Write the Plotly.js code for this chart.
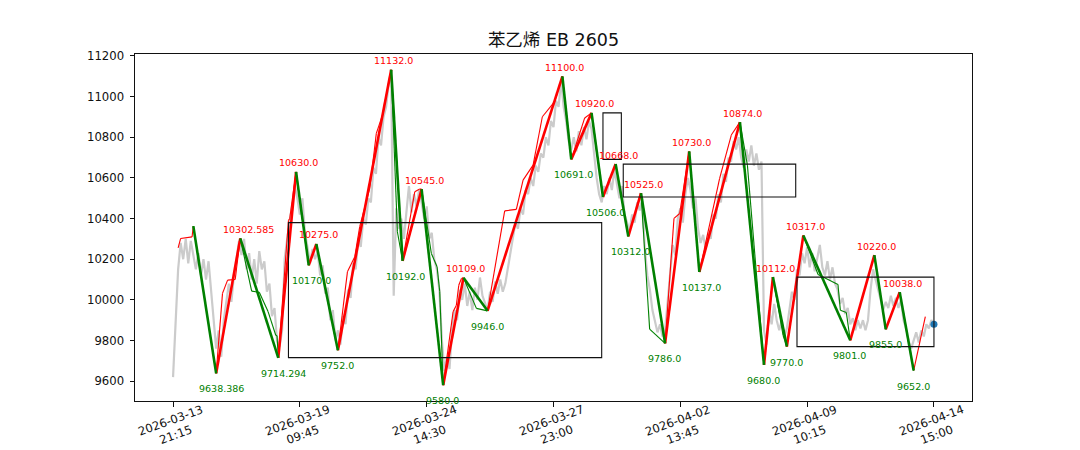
<!DOCTYPE html>
<html><head><meta charset="utf-8">
<script src="https://cdn.plot.ly/plotly-3.0.1.min.js"></script>
<style>html,body{margin:0;padding:0;background:#fff;} #chart{width:1080px;height:450px;}</style>
</head><body><div id="chart"></div>
<script>
// ---- data ----
const grayStep = 2; // bar index spacing of the close samples below
const grayClose = [
9620, 9900, 10150, 10280, 10200, 10300, 10180, 10290, 10220, 10150,
10230, 10120, 10200, 10100, 10190, 10040, 9880, 9760, 9850, 9720,
9900, 9980, 10080, 9990, 10120, 10200, 10290, 10220, 10300, 10150,
10230, 10100, 10200, 10080, 10240, 10150, 10190, 10040, 10080, 9920,
9960, 9800, 9770, 9850, 10200, 10300, 10380, 10460, 10560, 10500,
10420, 10500, 10330, 10260, 10180, 10250, 10200, 10240, 10120, 10170,
10030, 10060, 9900, 9950, 9800, 9850, 9780, 9920, 9880, 10050,
10010, 10180, 10150, 10300, 10260, 10400, 10370, 10500, 10480, 10650,
10620, 10800, 10760, 10900, 10950, 11060, 11110, 10020, 10450, 10350,
10400, 10300, 10450, 10560, 10430, 10520, 10460, 10540, 10480, 10400,
10460, 10300, 10330, 10200, 10150, 10050, 9800, 9650, 9720, 9660,
9850, 9950, 9900, 10050, 10000, 10080, 9970, 10040, 9950, 10060,
10000, 10110, 10020, 9980, 9950, 10040, 9990, 10090, 10030, 10100,
10040, 10080, 10150, 10230, 10300, 10380, 10350, 10450, 10420, 10540,
10520, 10600, 10560, 10660, 10630, 10720, 10700, 10800, 10760, 10880,
10850, 10980, 10950, 11080, 10950, 10880, 10780, 10740, 10800, 10730,
10830, 10760, 10850, 10790, 10880, 10840, 10720, 10600, 10520, 10480,
10560, 10520, 10600, 10540, 10640, 10560, 10500, 10560, 10420, 10380,
10340, 10420, 10380, 10480, 10440, 10500, 10250, 10120, 10050, 9950,
9900, 9840, 9880, 9820, 9850, 10000, 10150, 10270, 10220, 10400,
10450, 10380, 10520, 10600, 10540, 10450, 10500, 10350, 10280, 10320,
10250, 10330, 10300, 10420, 10400, 10520, 10480, 10620, 10580, 10700,
10680, 10780, 10740, 10800, 10700, 10650, 10740, 10680, 10760, 10660,
10720, 10640, 10680, 9850, 9780, 9950, 9880, 9980, 9900, 9850,
9900, 9820, 9860, 9960, 10040, 10000, 10150, 10120, 10230, 10180,
10260, 10160, 10230, 10140, 10200, 10270, 10160, 10120, 10190, 10100,
10160, 10080, 10050, 9980, 10010, 9930, 9960, 9880, 9910, 9850,
9900, 9860, 9900, 9850, 9900, 10050, 10150, 10100, 10050, 10000,
9950, 9990, 9960, 10020, 9970, 10010, 9960, 10000, 9900, 9860,
9800, 9760, 9800, 9840, 9790, 9850, 9820, 9880, 9860, 9900,
9880
];

// main strokes (thick)
const pivotIdx = [16, 34, 53, 83, 97, 107, 113, 130, 172, 181, 196, 213, 229, 248, 307, 314, 330, 339, 349, 359, 369, 388, 407, 415, 447, 466, 473, 484, 497, 534, 553, 562, 573, 584];
const pivotVal = [10363, 9638.386, 10302.585, 9714.294, 10630, 10170, 10275, 9752, 11132, 10192, 10545, 9580, 10109, 9946, 11100, 10691, 10920, 10506, 10668, 10312, 10525, 9786, 10730, 10137, 10874, 9680, 10112, 9770, 10317, 9801, 10220, 9855, 10038, 9652];

// sub-level strokes (thin)
const subIdx = [4, 6, 15, 16, 34, 39, 43, 49, 53, 62, 68, 75, 81, 82, 83, 91, 92, 97, 107, 113, 130, 137.5, 143.3, 147.2, 155.1, 160.3, 165.1, 172, 176.9, 181, 190.6, 194.5, 196, 203.7, 208.2, 210.3, 213, 220.8, 223.4, 225.3, 227.4, 229, 239.2, 248, 261.5, 270.7, 276, 283.9, 291.2, 300.9, 307, 314, 324.6, 330, 339, 349, 359, 369, 375.8, 388, 395, 399.5, 407, 415, 431, 440.2, 446.3, 447, 452.9, 466, 473, 481, 484, 497, 508.6, 524.3, 526.2, 530.9, 534, 553, 562, 573, 584, 593.2];
const subVal = [10256, 10302, 10310, 10363, 9638.386, 10032, 10097, 10100, 10302.585, 10043, 10037, 9941, 9826, 9823, 9714.294, 10390, 10400, 10630, 10170, 10275, 9752, 10138, 10212, 10360, 10548, 10819, 10909, 11132, 10335, 10192, 10532, 10545, 10545, 10228, 10163, 10040, 9580, 9941, 9974, 10072, 10105, 10109, 9958, 9946, 10438, 10445, 10589, 10663, 10901, 10975, 11100, 10691, 10895, 10920, 10506, 10668, 10312, 10525, 9856, 9786, 10401, 10425, 10730, 10137, 10598, 10811, 10868, 10874, 10663, 9680, 10112, 9826, 9770, 10317, 10125, 10076, 9949, 9938, 9801, 10220, 9855, 10038, 9652, 9917];

// pivot boxes
const boxX0 = [91, 339, 355, 492];
const boxX1 = [338, 353.5, 491, 600];
const boxLow = [9716, 10691, 10506, 9770];
const boxHigh = [10380, 10920, 10668, 10112];

// last price marker
const lastIdx = [600];
const lastVal = [9880];

const yTicks = [9600, 9800, 10000, 10200, 10400, 10600, 10800, 11000, 11200];
const xTickIdx = [0, 100, 200, 300, 400, 500, 600];
const xTickDate = ['2026-03-13', '2026-03-19', '2026-03-24', '2026-03-27', '2026-04-02', '2026-04-09', '2026-04-14'];
const xTickTime = ['21:15', '09:45', '14:30', '23:00', '13:45', '10:15', '15:00'];

// ---- build ----
const FONT = 'DejaVu Sans, Noto Sans CJK SC, sans-serif';
function splitByDir(xs, ys) {
  const up = {x: [], y: []}, dn = {x: [], y: []};
  for (let i = 0; i < xs.length - 1; i++) {
    const t = ys[i + 1] >= ys[i] ? up : dn;
    t.x.push(xs[i], xs[i + 1], null);
    t.y.push(ys[i], ys[i + 1], null);
  }
  return {up, dn};
}
const grayX = grayClose.map((_, i) => i * grayStep);
const thin = splitByDir(subIdx, subVal);
const thick = splitByDir(pivotIdx, pivotVal);

const traces = [
  {x: grayX, y: grayClose, mode: 'lines', line: {color: '#cbcbcb', width: 2.2}, hoverinfo: 'skip'},
  {x: thin.up.x, y: thin.up.y, mode: 'lines', line: {color: 'red', width: 1.1}, connectgaps: false},
  {x: thin.dn.x, y: thin.dn.y, mode: 'lines', line: {color: 'green', width: 1.1}, connectgaps: false},
  {x: thick.up.x, y: thick.up.y, mode: 'lines', line: {color: 'red', width: 2.6}, connectgaps: false},
  {x: thick.dn.x, y: thick.dn.y, mode: 'lines', line: {color: 'green', width: 2.6}, connectgaps: false},
  {x: lastIdx, y: lastVal, mode: 'markers', marker: {color: '#1f77b4', size: 7}}
];

const shapes = boxX0.map((x0, i) => ({
  type: 'rect', xref: 'x', yref: 'y', x0: x0, x1: boxX1[i], y0: boxLow[i], y1: boxHigh[i],
  line: {color: '#111', width: 1.1}, fillcolor: 'rgba(0,0,0,0)', layer: 'above'
}));

const annotations = [];
for (let i = 1; i < pivotIdx.length; i++) {
  const v = pivotVal[i];
  const peak = v > pivotVal[i - 1];
  annotations.push({
    x: pivotIdx[i], y: v, xref: 'x', yref: 'y', showarrow: false,
    text: Number.isInteger(v) ? v.toFixed(1) : String(v),
    xanchor: 'left', yanchor: 'middle', xshift: -19, yshift: peak ? 9 : -15.5,
    font: {family: FONT, size: 9.5, color: peak ? 'red' : 'green'}
  });
}
xTickIdx.forEach((xi, i) => {
  annotations.push({
    x: xi, y: 0, xref: 'x', yref: 'paper', showarrow: false,
    text: xTickDate[i] + '<br>' + xTickTime[i], textangle: -20, align: 'center',
    xanchor: 'center', yanchor: 'middle', yshift: -26,
    font: {family: FONT, size: 11.7, color: '#111'}
  });
});

const layout = {
  width: 1080, height: 450,
  margin: {l: 135, r: 108, t: 54, b: 49, pad: 0},
  paper_bgcolor: '#fff', plot_bgcolor: '#fff',
  showlegend: false,
  title: {text: '苯乙烯 EB 2605', x: 0.5, xref: 'paper', xanchor: 'center', y: 1 - 40 / 450, yref: 'container', yanchor: 'middle',
          font: {family: FONT, size: 17.5, color: '#111'}},
  xaxis: {range: [-30, 630], tickmode: 'array', tickvals: xTickIdx, showticklabels: false,
          ticks: 'outside', ticklen: 4.5, tickwidth: 1, tickcolor: '#111',
          showline: true, linecolor: '#111', linewidth: 1, mirror: true,
          showgrid: false, zeroline: false, automargin: false},
  yaxis: {range: [9502.4, 11209.6], tickmode: 'array', tickvals: yTicks, ticktext: yTicks.map(String),
          ticks: 'outside', ticklen: 4.5, tickwidth: 1, tickcolor: '#111', ticklabelstandoff: 3,
          tickfont: {family: FONT, size: 11.7, color: '#111'},
          showline: true, linecolor: '#111', linewidth: 1, mirror: true,
          showgrid: false, zeroline: false, automargin: false},
  shapes: shapes,
  annotations: annotations
};

Plotly.newPlot('chart', traces, layout, {staticPlot: true, displayModeBar: false});
</script>
</body></html>
